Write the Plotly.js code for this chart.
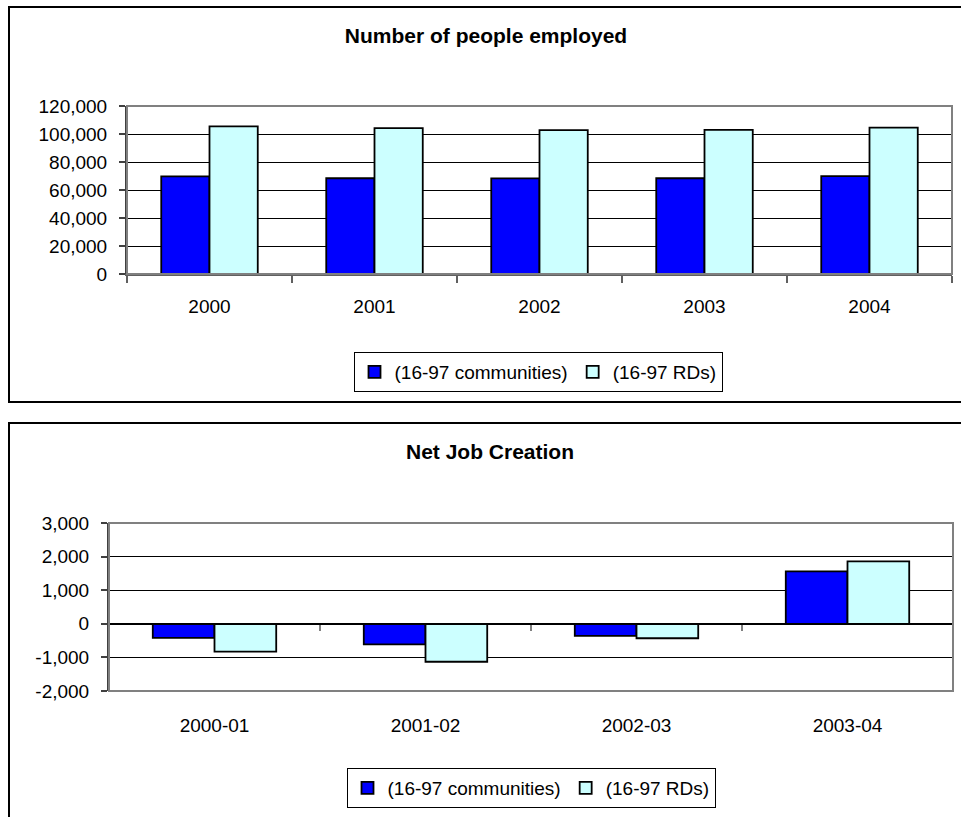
<!DOCTYPE html>
<html>
<head>
<meta charset="utf-8">
<script src="https://cdn.plot.ly/plotly-3.0.1.min.js"></script>
<style>
  html, body { margin: 0; padding: 0; background: #fff; width: 961px; height: 817px; overflow: hidden; position: relative; }
  .box { position: absolute; border: 2px solid #000; background: #fff; box-sizing: border-box; }
  .plot { position: absolute; left: 0; width: 961px; }
</style>
</head>
<body>
<div class="box" style="left:8px; top:6px; width:1000px; height:397px;"></div>
<div class="box" style="left:8px; top:422px; width:1000px; height:420px;"></div>
<div id="chart1" class="plot" style="top:0px; height:410px;"></div>
<div id="chart2" class="plot" style="top:410px; height:407px;"></div>
<script>
// ---- data ----
const years = ['2000', '2001', '2002', '2003', '2004'];
const employedCommunities = [69800, 68400, 68300, 68400, 69900];
const employedRDs = [105500, 104200, 102800, 102900, 104600];
const employedTickVals = [0, 20000, 40000, 60000, 80000, 100000, 120000];
const employedTickText = ['0', '20,000', '40,000', '60,000', '80,000', '100,000', '120,000'];

const periods = ['2000-01', '2001-02', '2002-03', '2003-04'];
const netCommunities = [-420, -610, -360, 1560];
const netRDs = [-830, -1130, -430, 1860];
const netTickVals = [-2000, -1000, 0, 1000, 2000, 3000];
const netTickText = ['-2,000', '-1,000', '0', '1,000', '2,000', '3,000'];

const seriesNames = ['(16-97 communities)', '(16-97 RDs)'];
const title1 = 'Number of people employed';
const title2 = 'Net Job Creation';

// ---- styles ----
const FONT = 'Liberation Sans, Arial, sans-serif';
const TICK = 19;
const blue = '#0000FF';
const cyan = '#CCFFFF';
const outline = { color: '#000', width: 1.8 };

function barTraces(cats, a, b) {
  return [
    { type: 'bar', name: seriesNames[0], x: cats, y: a, marker: { color: blue, line: outline }, hoverinfo: 'skip' },
    { type: 'bar', name: seriesNames[1], x: cats, y: b, marker: { color: cyan, line: outline }, hoverinfo: 'skip' }
  ];
}

function baseLayout(titleText, titleX, titleY, legX, legY, margin) {
  return {
    width: 961,
    height: margin.h,
    margin: { l: margin.l, r: margin.r, t: margin.t, b: margin.b, pad: 0 },
    paper_bgcolor: 'rgba(0,0,0,0)',
    plot_bgcolor: '#fff',
    font: { family: FONT, size: TICK, color: '#000' },
    barmode: 'group',
    bargap: 0.415,
    bargroupgap: 0,
    title: { text: '<b>' + titleText + '</b>', x: titleX, y: titleY, xref: 'container', yref: 'container',
             xanchor: 'center', yanchor: 'middle', font: { family: FONT, size: 21, color: '#000' } },
    showlegend: true,
    legend: {
      orientation: 'h', xref: 'container', yref: 'container', x: legX, y: legY,
      xanchor: 'center', yanchor: 'middle', bgcolor: '#fff', bordercolor: '#000', borderwidth: 1,
      font: { family: FONT, size: TICK, color: '#000' }, traceorder: 'normal', itemclick: false, itemdoubleclick: false,
      itemwidth: 30
    },
    shapes: [
      { type: 'rect', xref: 'paper', yref: 'paper', x0: 0, x1: 1, y0: 0, y1: 1, line: { color: '#808080', width: 2 }, layer: 'above' }
    ]
  };
}

// ---- chart 1 ----
const layout1 = baseLayout(title1, 486 / 961, 1 - 36 / 410, 538 / 961, 1 - 372 / 410,
  { h: 410, l: 127, r: 9, t: 106, b: 136 });
layout1.xaxis = {
  type: 'category', showgrid: false, zeroline: false, showline: true, linecolor: '#606060', linewidth: 2,
  ticks: 'outside', tickson: 'boundaries', ticklen: 7, tickcolor: '#606060', tickwidth: 2,
  ticklabelstandoff: 14, tickfont: { family: FONT, size: TICK, color: '#000' }
};
layout1.yaxis = {
  range: [0, 120000], tickvals: employedTickVals, ticktext: employedTickText, showgrid: true, gridcolor: '#000', gridwidth: 1,
  zeroline: false, showline: true, linecolor: '#404040', linewidth: 2,
  ticks: 'outside', ticklen: 6, tickcolor: '#404040', tickwidth: 2, ticklabelstandoff: 8,
  tickfont: { family: FONT, size: TICK, color: '#000' }
};
Plotly.newPlot('chart1', barTraces(years, employedCommunities, employedRDs), layout1, { displayModeBar: false, staticPlot: true });

// ---- chart 2 ----
const layout2 = baseLayout(title2, 490 / 961, 1 - 42 / 407, 531 / 961, 1 - 378 / 407,
  { h: 407, l: 109, r: 8, t: 113, b: 126 });
layout2.xaxis = {
  type: 'category', showgrid: false, zeroline: false, showline: false,
  ticks: '', ticklabelstandoff: 21, tickfont: { family: FONT, size: TICK, color: '#000' }
};
layout2.xaxis2 = {
  type: 'category', overlaying: 'x', matches: 'x', anchor: 'free', position: 0.4, side: 'bottom',
  showgrid: false, zeroline: false, showline: true, linecolor: '#000', linewidth: 1.5,
  ticks: 'outside', tickson: 'boundaries', ticklen: 6, tickcolor: '#808080', tickwidth: 2, showticklabels: false
};
layout2.yaxis = {
  range: [-2000, 3000], tickvals: netTickVals, ticktext: netTickText, showgrid: true, gridcolor: '#000', gridwidth: 1,
  zeroline: false, showline: true, linecolor: '#404040', linewidth: 2,
  ticks: 'outside', ticklen: 6, tickcolor: '#404040', tickwidth: 2, ticklabelstandoff: 8,
  tickfont: { family: FONT, size: TICK, color: '#000' }
};
const traces2 = barTraces(periods, netCommunities, netRDs);
traces2.push({ type: 'bar', x: periods, y: periods.map(() => null), xaxis: 'x2', showlegend: false, hoverinfo: 'skip' });
Plotly.newPlot('chart2', traces2, layout2, { displayModeBar: false, staticPlot: true });
</script>
</body>
</html>
